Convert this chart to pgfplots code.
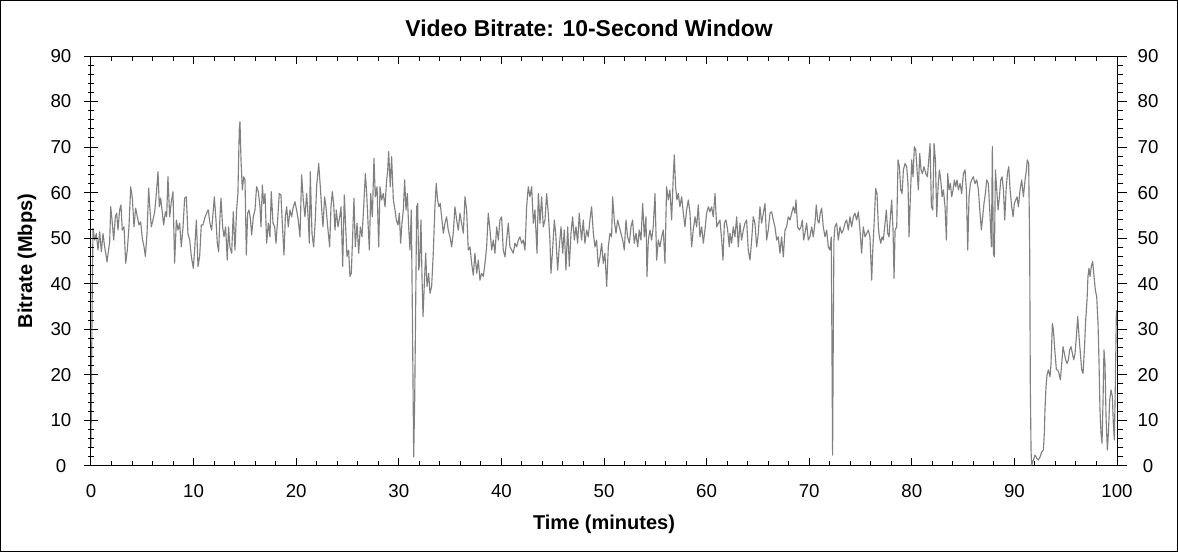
\documentclass[border=0pt]{standalone}
\usepackage{fontspec}
\setmainfont{Liberation Sans}
\usepackage{pgfplots}
\usepackage{pgfplotstable}
\pgfplotsset{compat=1.18}
\definecolor{linegray}{RGB}{128,128,128}

% minutes, Mbps
\pgfplotstableread{
t v
0 4
0.06 22
0.12 38
0.195 52.2
0.357 49.6
0.52 51
0.68 47.4
0.845 51.4
1.007 47
1.17 51
1.33 48.1
1.49 45.9
1.56 44.8
1.82 49.2
1.92 56.9
2.05 54
2.21 49.6
2.37 54.7
2.50 55.5
2.63 51.8
2.79 56.2
2.92 57.3
3.05 51.8
3.22 52.5
3.38 44.5
3.54 47.4
3.70 52.5
3.87 61.3
4.03 58.8
4.19 52.5
4.35 56.6
4.52 54.7
4.68 52.9
4.84 53.6
5.00 50
5.17 48.1
5.30 46
5.46 51
5.62 61
5.75 56.2
5.88 52.5
6.04 54
6.21 55.8
6.37 59.8
6.53 64.6
6.66 56.9
6.79 58.8
6.92 56.2
7.08 52.9
7.25 55.8
7.37 54.7
7.50 63.5
7.67 54.7
7.83 58
7.99 60.2
8.15 44.5
8.32 54
8.48 51.8
8.64 53.3
8.80 48.1
8.97 52.5
9.13 58.8
9.29 59.1
9.45 51
9.62 49.6
9.78 46
9.97 43.4
10.10 47.4
10.27 54
10.43 43.8
10.59 46
10.75 52.9
10.92 52.9
11.08 54.4
11.27 55.5
11.43 56.2
11.59 53.3
11.76 51.8
11.92 56.2
12.02 59.1
12.18 54
12.31 48.9
12.44 47
12.57 54.7
12.67 58.8
12.83 52.5
12.96 50.3
13.12 52.5
13.28 45.2
13.41 52.5
13.54 48.1
13.71 46.7
13.87 55.8
14.03 47.4
14.19 56.2
14.32 59.8
14.45 73.8
14.52 75.6
14.62 67.2
14.75 60.6
14.88 63.5
15.01 62.8
15.14 46.3
15.27 55.5
15.40 56.2
15.53 54.4
15.66 50.7
15.82 54.7
15.98 56.2
16.14 61.3
16.31 60.2
16.47 56.9
16.57 52.5
16.70 61.7
16.83 57.6
16.96 59.8
17.12 48.9
17.28 53.3
17.44 50.3
17.57 60.2
17.74 53.3
17.90 52.5
18.03 48.9
18.19 54
18.35 59.8
18.51 59.5
18.68 51.8
18.81 46.3
18.94 54.7
19.07 56.9
19.23 52.5
19.39 56.2
19.55 54.7
19.72 56.9
19.88 58
20.04 56.2
20.20 54
20.37 50.3
20.53 63.9
20.69 58.4
20.85 54.7
21.02 59.8
21.18 54
21.28 48.9
21.37 64.6
21.54 51
21.70 48.1
21.86 54
21.99 61.3
22.19 66.4
22.35 61.3
22.51 55.5
22.61 52.5
22.77 59.1
22.90 56.9
23.07 52.5
23.26 48.1
23.39 56.9
23.52 60.2
23.65 57.6
23.78 51.8
23.91 56.2
24.07 52.5
24.24 54.7
24.37 56.9
24.53 43.8
24.69 59.5
24.82 52.5
24.95 46
25.11 47.4
25.24 41.6
25.37 42.3
25.50 50.3
25.63 58.8
25.76 48.1
25.93 53.3
26.09 46.7
26.25 52.5
26.41 50.3
26.58 56.9
26.74 64.2
26.87 59.8
27.00 53.3
27.13 47.4
27.26 59.8
27.42 54.7
27.58 67.5
27.71 59.1
27.88 61.3
28.04 48.1
28.17 61.3
28.33 58.4
28.49 59.8
28.66 56.9
28.79 62
28.92 65
29.01 69
29.17 61.3
29.30 67.9
29.47 58.4
29.63 56.2
29.76 54
29.92 52.9
30.05 55.5
30.18 48.9
30.31 53.3
30.44 56.2
30.57 62.8
30.70 56.2
30.83 59.8
30.96 52.5
31.09 47.4
31.22 56.2
31.32 34.2
31.38 19.6
31.45 2.0
31.55 14.5
31.64 34.2
31.74 56.9
31.84 57.6
31.94 43
32.03 44.5
32.16 54
32.26 41.6
32.36 32.8
32.49 40.1
32.62 46.7
32.75 39.4
32.91 42.3
33.04 37.9
33.20 39.4
33.36 46.7
33.52 56.9
33.65 62
33.78 58.4
33.91 56.9
34.04 57.6
34.17 54.7
34.34 51.1
34.50 53.3
34.66 54.7
34.82 51.8
34.99 50.3
35.15 48.1
35.31 51.1
35.47 56.9
35.64 54
35.80 51.8
35.96 55.5
36.12 53.3
36.29 51.1
36.45 59.1
36.61 56.2
36.77 47.4
36.94 48.1
37.10 44.5
37.26 41.9
37.42 46.7
37.59 42.3
37.75 45.2
37.91 40.8
38.07 42.3
38.24 41.6
38.40 44.5
38.56 48.1
38.72 55.5
38.89 51.8
39.05 47.4
39.21 49.6
39.37 46.7
39.54 52.5
39.70 49.6
39.86 54
40.02 54.7
40.18 47.4
40.35 45.9
40.51 49.6
40.67 53.3
40.83 48.1
41.00 47.4
41.16 46.7
41.32 48.9
41.48 48.1
41.65 49.6
41.81 50.3
41.97 48.9
42.13 49.6
42.30 47.4
42.46 56.9
42.62 61.3
42.78 59.1
42.95 61.3
43.11 53.3
43.27 56.2
43.47 46.7
43.60 59.8
43.76 53.3
43.92 59.1
44.08 52.5
44.25 54
44.41 59.8
44.57 55.5
44.73 49.6
44.83 42.3
44.99 47.4
45.16 54
45.29 51.1
45.48 43
45.64 48.1
45.81 52.5
45.97 46.7
46.13 51.8
46.29 43
46.46 52.5
46.62 43.8
46.78 51.1
46.94 54.7
47.11 49.6
47.27 52.5
47.43 48.9
47.59 55.5
47.66 53.3
47.82 49.6
47.98 54
48.14 48.9
48.31 51.8
48.47 50.3
48.63 54
48.79 56.9
48.96 51.1
49.12 48.1
49.28 49.6
49.44 43.8
49.61 45.9
49.77 48.9
49.93 44.5
50.09 46.7
50.26 39.4
50.42 48.1
50.58 51.1
50.74 50.3
50.84 59.1
51.00 54
51.17 51.1
51.33 54
51.49 52.5
51.65 51.1
51.82 49.6
51.98 47.4
52.14 54
52.30 50.3
52.47 48.9
52.63 52.5
52.79 54
52.95 48.9
53.12 51.1
53.28 48.1
53.44 51.8
53.60 49.6
53.77 57.6
53.93 50.3
54.09 54.7
54.19 41.6
54.32 49.6
54.48 51.8
54.64 49.6
54.80 52.5
54.97 59.8
55.13 45.2
55.29 49.6
55.45 48.1
55.62 50.3
55.78 51.8
55.94 44.5
56.10 61.3
56.27 58.4
56.43 60.6
56.59 54
56.75 63.5
56.85 68.3
56.98 61.3
57.11 58.4
57.24 59.8
57.40 56.9
57.57 59.1
57.73 55.5
57.89 52.5
58.05 56.2
58.22 58.4
58.38 55.5
58.54 48.1
58.70 51.8
58.87 54.7
59.03 52.5
59.19 57.3
59.35 50.3
59.52 52.5
59.68 48.9
59.84 51.8
60.00 55.5
60.17 56.9
60.33 55.8
60.49 56.9
60.65 54.7
60.82 59.8
60.98 52.5
61.14 53.3
61.30 54
61.47 49.6
61.60 45.2
61.73 53.3
61.89 54
62.05 51.8
62.21 48.1
62.28 51.1
62.44 48.9
62.60 52.5
62.76 50.3
62.93 54.7
63.09 48.1
63.25 53.3
63.41 49.6
63.58 51.8
63.74 53.3
63.90 54
64.06 47.4
64.23 45.2
64.39 49.6
64.55 54.7
64.71 53.3
64.88 48.1
65.04 51.1
65.20 56.9
65.36 53.3
65.53 55.5
65.69 57.6
65.85 49.6
66.01 51.8
66.18 55.5
66.34 55.8
66.50 54
66.66 52.5
66.83 49.6
66.99 50.3
67.15 46.7
67.31 50.3
67.48 45.9
67.64 51.8
67.80 52.5
67.96 54.7
68.13 54
68.29 55.5
68.45 56.9
68.61 55.5
68.71 58.4
68.87 52.5
69.04 51.8
69.20 52.5
69.33 54
69.46 49.6
69.59 51.1
69.75 53.3
69.91 49.6
70.07 50.3
70.24 52.5
70.40 50.3
70.56 53.3
70.69 57.3
70.82 54
70.95 53.3
71.08 55.5
71.21 56.6
71.37 52.5
71.54 50.3
71.70 51.8
71.86 48.1
72.02 47.4
72.15 50.3
72.22 25
72.28 2.4
72.35 30
72.41 49.6
72.51 52.5
72.67 53.3
72.84 49.6
73.00 52.5
73.16 51.1
73.32 51.8
73.49 53.3
73.65 54
73.81 51.8
73.97 54.7
74.14 52.5
74.30 54.7
74.46 55.5
74.62 54
74.79 55.8
74.95 51.8
75.11 46.7
75.27 52.5
75.44 50.3
75.60 51.1
75.76 51.8
75.92 50.3
76.09 40.8
76.18 46.7
76.31 52.5
76.48 60.9
76.61 59.8
76.74 52.5
76.84 50.3
76.97 48.9
77.10 50.3
77.23 49.6
77.39 53.3
77.52 56.2
77.65 51.1
77.78 50.3
77.91 54.7
78.04 58.4
78.17 51.8
78.27 41.2
78.37 51.8
78.53 52.5
78.66 67.2
78.79 65.7
78.92 60.6
79.05 59.8
79.18 65
79.34 66.4
79.50 65.7
79.63 62
79.73 50.3
79.86 59.1
79.99 67.2
80.12 63.5
80.25 70.1
80.38 69.4
80.51 65
80.64 60.6
80.77 68.6
80.90 65
81.03 64.2
81.19 65.7
81.36 64.2
81.52 63.5
81.65 67.2
81.78 70.8
81.91 56.9
82.04 56.2
82.17 70.8
82.30 67.2
82.43 54.7
82.56 61.3
82.69 65
82.82 62.8
82.95 59.1
83.08 60.6
83.24 56.9
83.37 49.6
83.50 64.2
83.63 60.6
83.76 62
83.89 59.1
84.02 60.6
84.15 62.8
84.28 61.3
84.41 62.8
84.54 60.6
84.70 62
84.86 59.8
85.03 64.2
85.19 65
85.32 60.6
85.45 47.4
85.58 59.1
85.71 62
85.84 62.8
86.00 63.5
86.16 62
86.33 62.8
86.49 60.6
86.65 55.5
86.78 51.8
86.91 54.7
87.04 57.7
87.17 59.8
87.30 62.8
87.46 62
87.63 54.7
87.76 48.1
87.85 70.1
87.95 46.7
88.05 45.9
88.15 65
88.28 60.6
88.41 56.2
88.54 59.1
88.67 62.8
88.80 63.5
88.93 60.6
89.06 54
89.19 60.6
89.32 64.2
89.45 65.7
89.58 60.6
89.74 56.9
89.87 54.7
90.00 57.7
90.13 58.4
90.26 59.1
90.39 56.9
90.55 60.6
90.71 62.8
90.88 59.1
91.04 62.8
91.17 65
91.26 67.2
91.39 66.4
91.49 47.4
91.55 18.1
91.62 3.5
91.68 0.2
91.85 1.3
92.01 2.4
92.17 1.7
92.33 1.3
92.50 2
92.66 3.1
92.82 3.5
92.92 7.2
92.98 12.3
93.08 17.4
93.18 20
93.31 21.1
93.47 19.6
93.57 22.5
93.70 31.3
93.80 29.9
93.89 26.9
93.99 24
94.09 21.1
94.22 21.1
94.35 20.3
94.48 18.9
94.61 22.5
94.74 26.2
94.87 24.7
95.00 23.3
95.13 22.5
95.26 23.3
95.39 25.5
95.52 26.2
95.65 24.7
95.78 23.3
95.91 24.7
96.04 28.4
96.17 32.8
96.30 28.4
96.43 24.7
96.56 21.1
96.69 20.3
96.82 25.5
96.95 32.1
97.08 36.5
97.17 41.6
97.27 43.4
97.37 41.6
97.50 43.8
97.63 44.9
97.76 41.6
97.89 38.6
98.02 37.2
98.15 31.3
98.25 22.5
98.34 12.3
98.44 7.2
98.54 5
98.64 14.5
98.73 25.5
98.83 22.5
98.93 10.8
99.06 3.5
99.16 7.2
99.29 14.5
99.42 16.7
99.55 15.2
99.64 9.4
99.74 5.7
99.84 18.1
99.94 34.2
}\bitrate

\newcommand{\ticksize}{\fontsize{14pt}{16pt}\selectfont}

% 1 px of the reference = 0.75pt
\pgfplotsset{
  frame/.style={
    scale only axis, width=769.5pt, height=307.5pt,
    at={(0,0)}, anchor=south west,
    xmin=0, xmax=100, ymin=0, ymax=90,
    axis line style={line width=0.75pt},
    tick style={line width=0.75pt, black},
    /pgf/number format/assume math mode=true,
  },
  labelsonly/.style={
    frame, axis line style={draw=none}, tick style={draw=none},
    major tick length=0pt, xtick=\empty,
    ytick={0,10,...,90},
    yticklabel style={font=\ticksize, anchor=center},
  },
}

\begin{document}
\begin{tikzpicture}
% data and x ticks
\begin{axis}[frame,
    xtick={0,10,...,100}, minor x tick num=4,
    ytick=\empty,
    xtick pos=both, xticklabel pos=lower,
    tick align=inside,
    major tick length=6pt, minor tick length=3.75pt,
    xticklabel style={font=\ticksize, anchor=center, yshift=-19.1pt},
  ]
  \addplot[linegray, line width=0.85pt, line join=round, no marks] table[x=t, y=v] {\bitrate};
\end{axis}
% left y ticks
\begin{axis}[frame, axis line style={draw=none},
    xtick=\empty, ytick={0,10,...,90}, minor y tick num=4,
    ytick pos=left, yticklabels={}, tick align=center,
    major tick length=11.25pt, minor tick length=5.25pt]
\end{axis}
% right y ticks
\begin{axis}[frame, axis line style={draw=none},
    xtick=\empty, ytick={0,10,...,90}, minor y tick num=4,
    ytick pos=right, yticklabels={}, tick align=outside,
    major tick length=7.5pt, minor tick length=4.5pt]
\end{axis}
% tick labels left and right
\begin{axis}[labelsonly, ytick pos=left, yticklabel pos=left,
    yticklabel style={xshift=-22.5pt}]
\end{axis}
\begin{axis}[labelsonly, ytick pos=right, yticklabel pos=right,
    yticklabel style={xshift=23.25pt}]
\end{axis}

\node[font=\fontsize{17.2pt}{20pt}\selectfont\bfseries] at (373.5pt,328.5pt) {Video Bitrate: 10-Second Window};
\node[font=\fontsize{15pt}{18pt}\selectfont\bfseries] at (384.75pt,-43.5pt) {Time (minutes)};
\node[font=\fontsize{15pt}{18pt}\selectfont\bfseries, rotate=90] at (-48pt,153.75pt) {Bitrate (Mbps)};

\draw[line width=0.75pt] (-67.875pt,-64.125pt) rectangle (814.875pt,349.125pt);
\end{tikzpicture}
\end{document}
